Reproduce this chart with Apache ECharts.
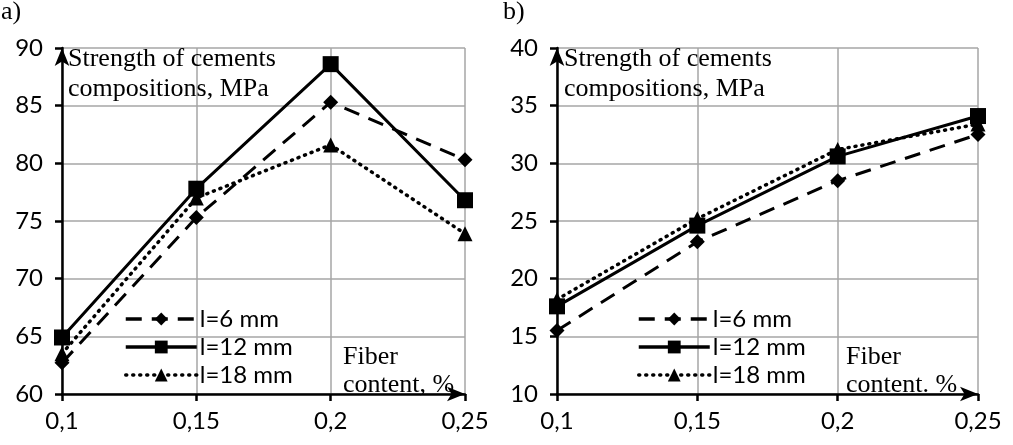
<!DOCTYPE html>
<html>
<head>
<meta charset="utf-8">
<script src="https://cdn.jsdelivr.net/npm/echarts@6/dist/echarts.min.js"></script>
<style>
  html, body { margin: 0; padding: 0; background: #fff; }
  #chart { width: 1013px; height: 445px; }
</style>
</head>
<body>
<div id="chart"></div>
<script>
// fiber content, %
const fiberContent = ['0,1', '0,15', '0,2', '0,25'];

// a) strength, MPa
const strengthA6 = [62.7, 75.3, 85.3, 80.3];
const strengthA12 = [64.9, 77.8, 88.6, 76.8];
const strengthA18 = [63.5, 77.0, 81.6, 73.9];

// b) strength, MPa
const strengthB6 = [15.5, 23.2, 28.5, 32.5];
const strengthB12 = [17.6, 24.6, 30.6, 34.1];
const strengthB18 = [18.2, 25.2, 31.2, 33.4];

const seriesNames = ['l=6 mm', 'l=12 mm', 'l=18 mm'];

const sans = 'Lato';
const serif = 'Liberation Serif';

const chart = echarts.init(document.getElementById('chart'));

// style per fiber length
const lineDefs = [
  { symbol: 'diamond', symbolSize: 15, lineStyle: { type: [16, 10], width: 3 } },
  { symbol: 'rect', symbolSize: 16, lineStyle: { type: 'solid', width: 3 } },
  { symbol: 'triangle', symbolSize: 15, lineStyle: { type: [1, 6], width: 3.5, cap: 'round' } }
];

function makeSeries(data, idx, gridIdx) {
  const d = lineDefs[idx];
  return {
    name: seriesNames[idx],
    type: 'line',
    xAxisIndex: gridIdx,
    yAxisIndex: gridIdx,
    data: data,
    symbol: d.symbol,
    symbolSize: d.symbolSize,
    showAllSymbol: true,
    itemStyle: { color: '#000' },
    lineStyle: Object.assign({ color: '#000' }, d.lineStyle),
    z: 5 - idx
  };
}

function xAxis(gridIdx) {
  return {
    type: 'category',
    gridIndex: gridIdx,
    data: fiberContent,
    boundaryGap: false,
    axisLine: { lineStyle: { color: '#000', width: 2.5 }, symbol: ['none', 'arrow'], symbolSize: [11, 18] },
    axisTick: { show: true, alignWithLabel: true, length: 7, lineStyle: { color: '#000', width: 2.5 } },
    axisLabel: { color: '#000', fontFamily: sans, fontSize: 24, margin: 15 },
    splitLine: { show: true, lineStyle: { color: '#a6a6a6', width: 1.5 } }
  };
}

function yAxis(gridIdx, min, max) {
  return {
    type: 'value',
    gridIndex: gridIdx,
    min: min,
    max: max,
    interval: 5,
    axisLine: { show: true, lineStyle: { color: '#000', width: 2.5 }, symbol: ['none', 'arrow'], symbolSize: [11, 18] },
    axisTick: { show: true, length: 7, lineStyle: { color: '#000', width: 2.5 } },
    axisLabel: { color: '#000', fontFamily: sans, fontSize: 24, margin: 19 },
    splitLine: { show: true, lineStyle: { color: '#a6a6a6', width: 1.5 } }
  };
}

function legend(left) {
  return {
    data: seriesNames,
    orient: 'vertical',
    left: left,
    top: 307,
    itemWidth: 71,
    itemHeight: 16,
    itemGap: 4,
    padding: 0,
    selectedMode: false,
    lineStyle: { width: 3.5 },
    textStyle: { color: '#000', fontFamily: sans, fontSize: 24, padding: [0, 0, 0, -2] }
  };
}

function text(x, y, str, lh) {
  return {
    type: 'text',
    left: x,
    top: y,
    z: 10,
    style: { text: str, fill: '#000', fontFamily: serif, fontSize: 26, lineHeight: lh }
  };
}

const option = {
  animation: false,
  grid: [
    { left: 62, right: 548, top: 48, bottom: 51 },
    { left: 557, right: 35, top: 48, bottom: 51 }
  ],
  xAxis: [xAxis(0), xAxis(1)],
  yAxis: [yAxis(0, 60, 90), yAxis(1, 10, 40)],
  legend: [legend(124), legend(637)],
  series: [
    makeSeries(strengthA6, 0, 0),
    makeSeries(strengthA12, 1, 0),
    makeSeries(strengthA18, 2, 0),
    makeSeries(strengthB6, 0, 1),
    makeSeries(strengthB12, 1, 1),
    makeSeries(strengthB18, 2, 1)
  ],
  graphic: [
    text(1, -3, 'a)', 30),
    text(503, -3, 'b)', 30),
    text(68, 44, 'Strength of cements\ncompositions, MPa', 30),
    text(564, 44, 'Strength of cements\ncompositions, MPa', 30),
    text(343, 343, 'Fiber\ncontent, %', 28),
    text(846, 343, 'Fiber\ncontent. %', 28)
  ]
};

chart.setOption(option);
</script>
</body>
</html>
